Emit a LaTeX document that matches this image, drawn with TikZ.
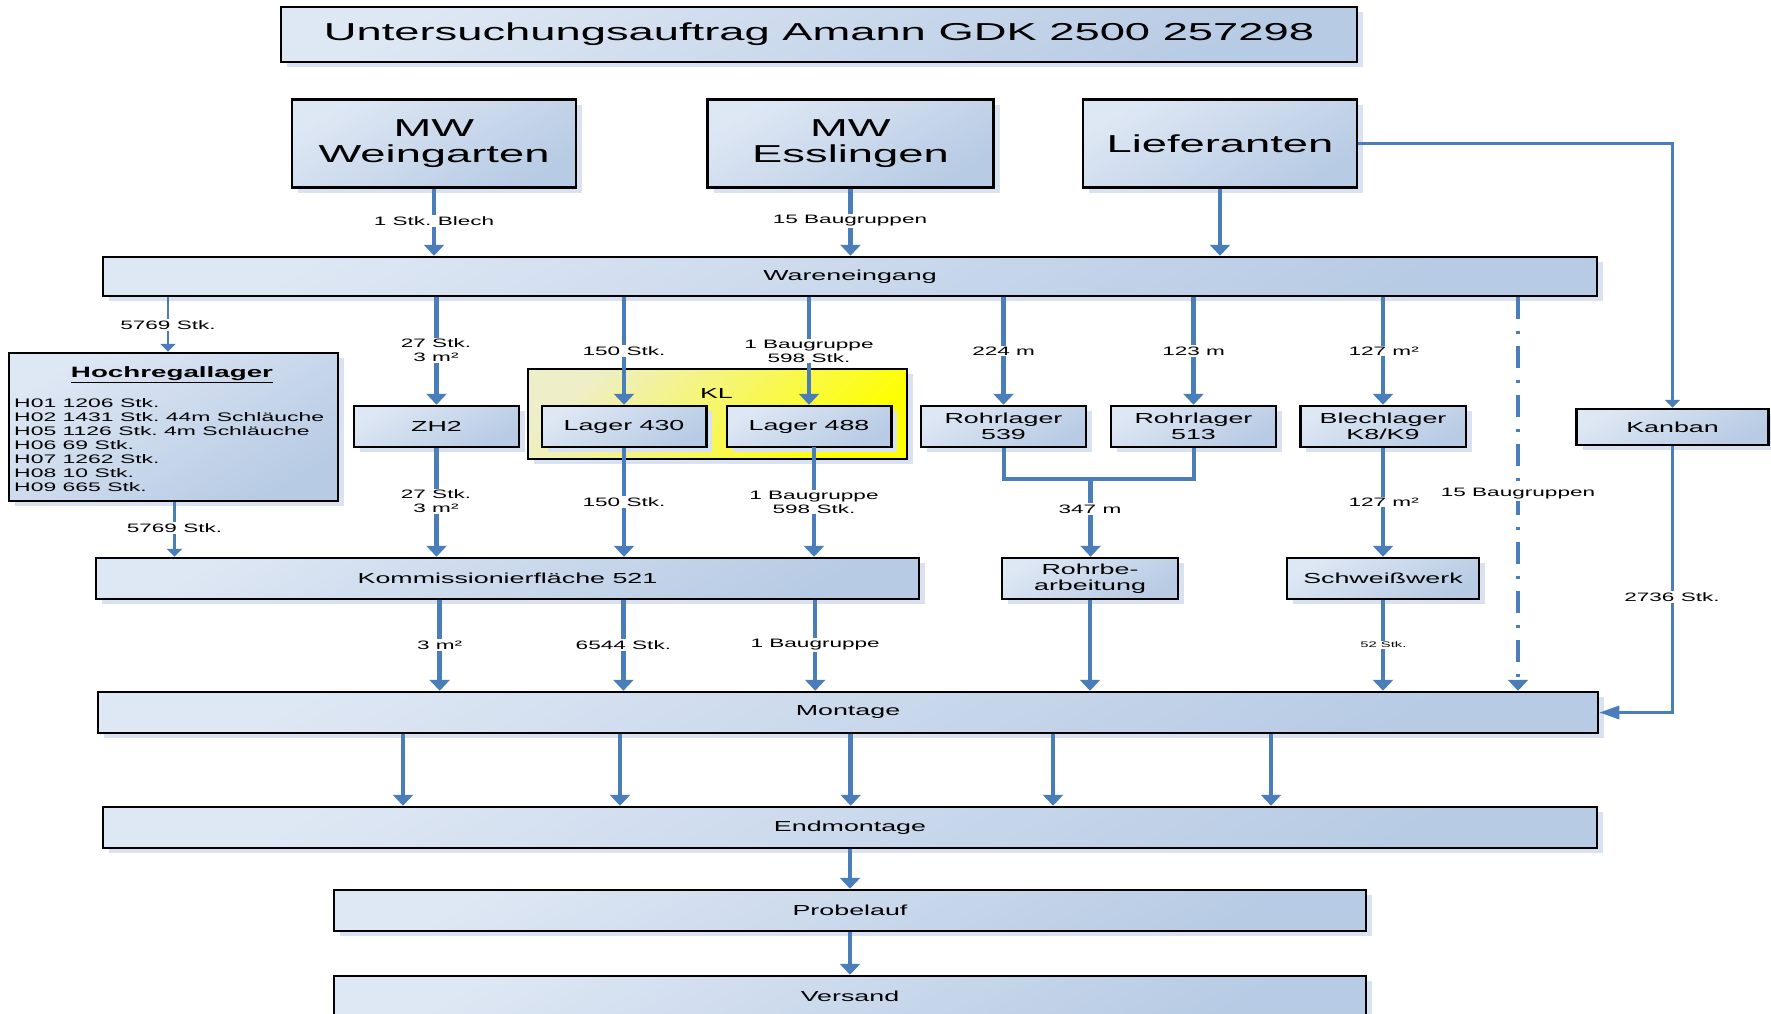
\documentclass[tikz,border=0pt]{standalone}
\usepackage{fontspec}
\setmainfont{Liberation Sans}[FakeStretch=1.85]
\usetikzlibrary{arrows.meta,shadows}
\definecolor{boxlight}{RGB}{222,231,244}
\definecolor{boxdark}{RGB}{183,203,228}
\definecolor{shadowc}{RGB}{216,226,241}
\definecolor{arrc}{RGB}{74,126,187}
\definecolor{kllight}{RGB}{238,238,200}
\definecolor{klyellow}{RGB}{255,255,0}
\frenchspacing
\begin{document}
\frenchspacing
\begin{tikzpicture}[x=1pt,y=-1pt,
  boxshadow/.style={drop shadow={shadow xshift=6pt,shadow yshift=-5pt,fill=shadowc,opacity=1}},
  box/.style={draw=black,line width=2.5pt,top color=boxlight,bottom color=boxdark,shading angle=30,
    inner sep=0pt,align=center,font=\fontsize{14.5}{15.5}\selectfont,boxshadow},
  bigbox/.style={box,font=\fontsize{24.5}{26}\selectfont},
  lbl/.style={fill=white,inner sep=1.2pt,align=center,font=\fontsize{12.2}{14}\selectfont},
  arr/.style={draw=arrc,line width=4.5pt,-{Triangle[width=20pt,length=11pt]}},
  arrthin/.style={draw=arrc,line width=2.4pt,-{Triangle[width=15pt,length=8pt]}},
  mergeline/.style={draw=arrc,line width=4pt},
  dashdot/.style={dash pattern=on 22pt off 12pt on 3pt off 12pt}
]
\useasboundingbox (0,0) rectangle (1771,1013);
\fill[white] (0,0) rectangle (1771,1013);

% top
\node[box,font=\fontsize{24.5}{26}\selectfont,minimum width=1076pt,minimum height=55pt] (title) at (819,34.5) {Untersuchungsauftrag Amann GDK 2500 257298};
\node[bigbox,minimum width=284pt,minimum height=88pt] (mww) at (434,143.5) {MW\\Weingarten};
\node[bigbox,minimum width=286pt,minimum height=88pt] (mwe) at (850.5,143.5) {MW\\Esslingen};
\node[bigbox,minimum width=274pt,minimum height=88pt] (lief) at (1220,143.5) {Lieferanten};
\node[box,minimum width=1494pt,minimum height=39pt] (we) at (850,276.5) {Wareneingang};

% Hochregallager
\node[box,minimum width=329pt,minimum height=148pt] (hr) at (173.5,427) {};
\node[anchor=base,inner sep=0pt,font=\bfseries\fontsize{15}{17}\selectfont] (hrh) at (172,377.5) {\underline{Hochregallager}};
\node[anchor=north west,align=left,inner sep=0pt,font=\fontsize{12.4}{14}\selectfont] (hrl) at (14,398.2)
 {H01 1206 Stk.\\H02 1431 Stk. 44m Schläuche\\H05 1126 Stk. 4m Schläuche\\H06 69 Stk.\\H07 1262 Stk.\\H08 10 Stk.\\H09 665 Stk.};

% KL
\node[draw=black,line width=2.5pt,top color=kllight,bottom color=klyellow,shading angle=45,
  minimum width=379pt,minimum height=90pt,inner sep=0pt,boxshadow] (kl) at (717.5,414) {};
\node[inner sep=0pt,font=\fontsize{14.5}{15.5}\selectfont] (kltxt) at (716.5,394) {KL};

% middle row
\node[box,minimum width=165pt,minimum height=41pt] (zh2) at (436.5,426.5) {ZH2};
\node[box,minimum width=164.5pt,minimum height=41pt] (l430) at (624,426.5) {Lager 430};
\node[box,minimum width=164.5pt,minimum height=41pt] (l488) at (809,426.5) {Lager 488};
\node[box,minimum width=165pt,minimum height=41pt] (r539) at (1003.5,426.5) {Rohrlager\\539};
\node[box,minimum width=165pt,minimum height=41pt] (r513) at (1193.5,426.5) {Rohrlager\\513};
\node[box,minimum width=165.5pt,minimum height=41pt] (bl) at (1383,426.5) {Blechlager\\K8/K9};
\node[box,minimum width=192pt,minimum height=36pt] (kan) at (1672.5,427) {Kanban};

% lower rows
\node[box,minimum width=823pt,minimum height=41pt] (kf) at (507.5,578.5) {Kommissionierfläche 521};
\node[box,minimum width=176pt,minimum height=41pt] (rb) at (1090,578.5) {Rohrbe-\\arbeitung};
\node[box,minimum width=192pt,minimum height=41pt] (sw) at (1383,578.5) {Schweißwerk};
\node[box,minimum width=1500pt,minimum height=41pt] (mo) at (848,712.5) {Montage};
\node[box,minimum width=1494pt,minimum height=41pt] (en) at (850,827.5) {Endmontage};
\node[box,minimum width=1032pt,minimum height=41pt] (pl) at (850,910.5) {Probelauf};
\node[box,minimum width=1032pt,minimum height=41pt] (vs) at (850,996.5) {Versand};

% helper coordinates
\coordinate (hin) at (168,0);
\coordinate (hout) at (174.5,0);
\coordinate (dd) at (1518,0);
\coordinate (mg) at (1090.6,479);
\coordinate (l488o) at (814,447);
\coordinate (k1) at (439.7,0);
\coordinate (k2) at (623.4,0);
\coordinate (k3) at (815.2,0);
\coordinate (e1) at (403,0);
\coordinate (e2) at (620,0);
\coordinate (e3) at (850.7,0);
\coordinate (e4) at (1053,0);
\coordinate (e5) at (1271,0);

% connectors top
\draw[arr] (mww.south) -- (mww.south |- we.north);
\draw[arr] (mwe.south) -- (mwe.south |- we.north);
\draw[arr] (lief.south) -- (lief.south |- we.north);
\draw[arrthin] (lief.east) -| (kan.north);

% Wareneingang outputs
\draw[arrthin,line width=2.3pt] (hin |- we.south) -- (hin |- hr.north);
\draw[arr] (zh2.north |- we.south) -- (zh2.north);
\draw[arr] (l430.north |- we.south) -- (l430.north);
\draw[arr] (l488.north |- we.south) -- (l488.north);
\draw[arr] (r539.north |- we.south) -- (r539.north);
\draw[arr] (r513.north |- we.south) -- (r513.north);
\draw[arr] (bl.north |- we.south) -- (bl.north);
\draw[arr,dashdot] (dd |- we.south) -- (dd |- mo.north);

% to Kommissionierflaeche etc.
\draw[arrthin,line width=2.3pt] (hout |- hr.south) -- (hout |- kf.north);
\draw[arr] (zh2.south) -- (zh2.south |- kf.north);
\draw[arr] (l430.south) -- (l430.south |- kf.north);
\draw[arr] (l488o) -- (l488o |- kf.north);
\draw[mergeline] (r539.south) |- (mg) -| (r513.south);
\draw[arr] (mg) -- (mg |- rb.north);
\draw[arr] (bl.south) -- (sw.north);

% to Montage
\draw[arr] (k1 |- kf.south) -- (k1 |- mo.north);
\draw[arr] (k2 |- kf.south) -- (k2 |- mo.north);
\draw[arr] (k3 |- kf.south) -- (k3 |- mo.north);
\draw[arr] (rb.south) -- (rb.south |- mo.north);
\draw[arr] (sw.south) -- (sw.south |- mo.north);
\draw[draw=arrc,line width=3.2pt,-{Triangle[width=13pt,length=20pt]}] (kan.south) |- (mo.east);

% to Endmontage
\draw[arr] (e1 |- mo.south) -- (e1 |- en.north);
\draw[arr] (e2 |- mo.south) -- (e2 |- en.north);
\draw[arr] (e3 |- mo.south) -- (e3 |- en.north);
\draw[arr] (e4 |- mo.south) -- (e4 |- en.north);
\draw[arr] (e5 |- mo.south) -- (e5 |- en.north);
\draw[arr] (en.south) -- (pl.north);
\draw[arr] (pl.south) -- (vs.north);

% labels
\node[lbl] (t1) at (434,221) {1 Stk. Blech};
\node[lbl] (t2) at (850,221) {15 Baugruppen};
\node[lbl] (t3) at (168,325) {5769 Stk.};
\node[lbl] (t4) at (436,350.5) {27 Stk.\\3 m²};
\node[lbl] (t5) at (624,351) {150 Stk.};
\node[lbl] (t6) at (809,351) {1 Baugruppe\\598 Stk.};
\node[lbl] (t7) at (1003.6,351) {224 m};
\node[lbl] (t8) at (1193.6,351) {123 m};
\node[lbl] (t9) at (1383.7,351) {127 m²};
\node[lbl] (t10) at (174.5,528) {5769 Stk.};
\node[lbl] (t11) at (436,501.5) {27 Stk.\\3 m²};
\node[lbl] (t12) at (624,502) {150 Stk.};
\node[lbl] (t13) at (814,502) {1 Baugruppe\\598 Stk.};
\node[lbl] (t14) at (1090,509) {347 m};
\node[lbl] (t15) at (1383.7,502) {127 m²};
\node[lbl] (t16) at (1518,494) {15 Baugruppen};
\node[lbl] (t17) at (1672,597) {2736 Stk.};
\node[lbl] (t18) at (439.7,645) {3 m²};
\node[lbl] (t19) at (623.4,645) {6544 Stk.};
\node[lbl] (t20) at (815.2,645) {1 Baugruppe};
\node[lbl,font=\fontsize{8}{9}\selectfont] (t21) at (1383.4,645) {52 Stk.};
\end{tikzpicture}
\end{document}
